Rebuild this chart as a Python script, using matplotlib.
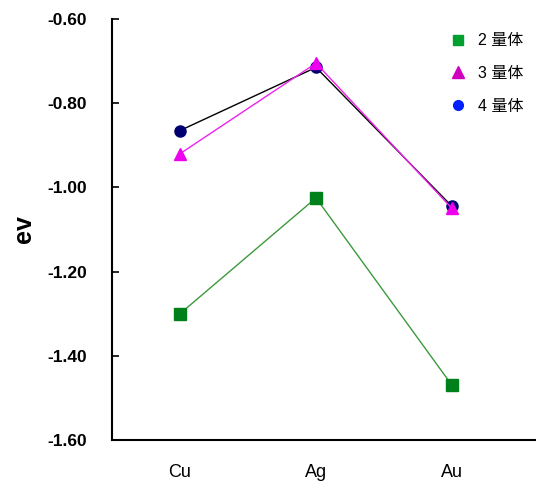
import numpy as np
import matplotlib.pyplot as plt
from matplotlib.lines import Line2D

plt.rcParams['font.family'] = ['Liberation Sans', 'Noto Sans CJK SC', 'DejaVu Sans']

metals = ['Cu', 'Ag', 'Au']
dimer = [-1.30, -1.025, -1.47]
trimer = [-0.92, -0.705, -1.05]
tetramer = [-0.865, -0.715, -1.045]
labels = ['2 量体', '3 量体', '4 量体']

fig = plt.figure(figsize=(5.36, 4.82), dpi=100)
ax = fig.add_axes([112/536, 1 - 440/482, 1 - 112/536, 421/482])

x = np.arange(1, len(metals) + 1)
ax.plot(x, dimer, color='#3c9a3c', lw=1.0, marker='s', ms=8,
        mfc='#00801a', mec='#00801a', zorder=3)
ax.plot(x, tetramer, color='black', lw=1.0, marker='o', ms=8,
        mfc='#000070', mec='#000070', zorder=3)
ax.plot(x, trimer, color='#ee22ee', lw=1.0, marker='^', ms=9,
        mfc='#ee00ee', mec='#ee00ee', zorder=4)

ax.set_xlim(0.5, 0.5 + (536 - 112) / 136)
ax.set_ylim(-1.6, -0.6)
ax.set_yticks(np.arange(-1.6, -0.59, 0.2))
ax.yaxis.set_major_formatter(plt.FormatStrFormatter('%.2f'))
ax.tick_params(axis='y', direction='in', length=5, width=1.2, labelsize=12.5, pad=18)
for lab in ax.get_yticklabels():
    lab.set_fontweight('bold')
ax.set_xticks(x)
ax.set_xticklabels(metals, fontsize=13)
ax.tick_params(axis='x', length=0, pad=17)

ax.spines['top'].set_visible(False)
ax.spines['right'].set_visible(False)
ax.spines['left'].set_linewidth(1.5)
ax.spines['bottom'].set_linewidth(1.5)

ax.set_ylabel('ev', fontsize=18, fontweight='bold', labelpad=8)

handles = [
    Line2D([], [], ls='none', marker='s', ms=7, mfc='#00a030', mec='#00a030'),
    Line2D([], [], ls='none', marker='^', ms=8, mfc='#d000c0', mec='#d000c0'),
    Line2D([], [], ls='none', marker='o', ms=7, mfc='#0020ff', mec='#0020ff'),
]
ax.legend(handles, labels, loc='upper right', bbox_to_anchor=(1.005, 1.0),
          frameon=False, handletextpad=0.5, labelspacing=1.1, handlelength=1.5,
          prop={'family': ['Liberation Sans', 'Noto Sans CJK SC'], 'size': 11.5})

fig.savefig('out.png', dpi=100)
